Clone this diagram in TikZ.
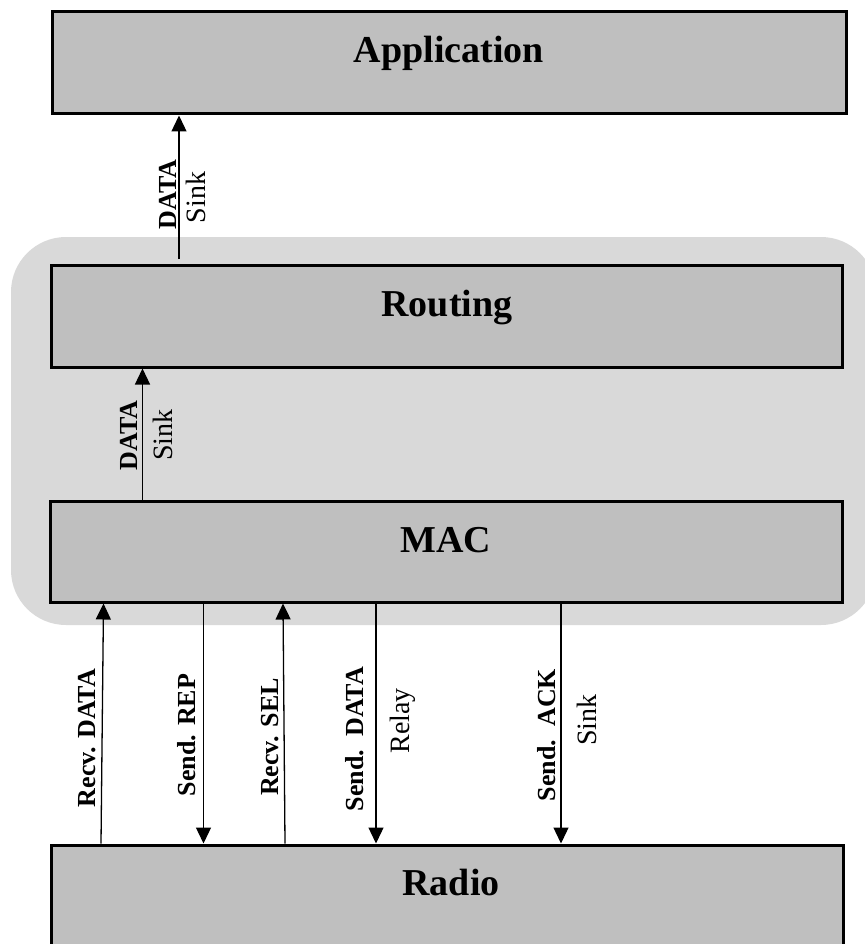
\documentclass[tikz,border=0pt]{standalone}
\usepackage{fontspec}
\setmainfont{Liberation Serif}
\usetikzlibrary{arrows.meta,fit,calc}
\definecolor{boxgray}{RGB}{191,191,191}
\definecolor{regiongray}{RGB}{217,217,217}
\begin{document}
\begin{tikzpicture}[x=1pt,y=-1pt,
  layerbox/.style={draw=black, line width=3pt, fill=boxgray, inner sep=0pt},
  titletext/.style={font=\bfseries\fontsize{38}{40}\selectfont, anchor=base, inner sep=0pt},
  sigbold/.style={font=\bfseries\fontsize{26}{28}\selectfont, rotate=90, inner sep=0pt},
  signorm/.style={font=\fontsize{28}{30}\selectfont, rotate=90, inner sep=0pt},
  sigarrow/.style={line width=1.3pt, -{Triangle[length=16pt,width=15pt]}}
]
\useasboundingbox (0,0) rectangle (864,944);
% grey stack region
\fill[regiongray, rounded corners=55pt] (11,237) rectangle (876,625);

% layers
\node[layerbox, fit={(52,12) (846,114)}] (app) {};
\node[layerbox, fit={(51.5,265.5) (842.5,367)}] (routing) {};
\node[layerbox, fit={(50.5,501) (842,602)}] (mac) {};
\node[layerbox, fit={(51.5,845) (843,948)}] (radio) {};

\node[titletext] (apptitle) at (449,63) {Application};
\node[titletext] (routingtitle) at (447,316) {Routing};
\node[titletext] (mactitle) at (446,552) {MAC};
\node[titletext] (radiotitle) at (451,895) {Radio};

% x positions of the connectors
\coordinate (s0) at (179,259);
\coordinate (x1) at (142.5,0);
\coordinate (x2b) at (101,0);
\coordinate (x2t) at (103.5,0);
\coordinate (x3) at (203.5,0);
\coordinate (x4b) at (285,0);
\coordinate (x4t) at (283,0);
\coordinate (x5) at (376,0);
\coordinate (x6) at (561,0);

% routing -> application
\draw[sigarrow] (s0) -- (app.south -| s0);
\node[sigbold] (l0a) at (167.5,194.5) {DATA};
\node[signorm] (l0b) at (196,197.5) {Sink};

% mac -> routing
\draw[sigarrow] (mac.north -| x1) -- (routing.south -| x1);
\node[sigbold] (l1a) at (129,435.5) {DATA};
\node[signorm] (l1b) at (162.5,435) {Sink};

% mac <-> radio
\draw[sigarrow] (radio.north -| x2b) -- (mac.south -| x2t);
\node[sigbold] (l2) at (87,738) {Recv. DATA};

\draw[sigarrow] (mac.south -| x3) -- (radio.north -| x3);
\node[sigbold] (l3) at (187,735) {Send. REP};

\draw[sigarrow] (radio.north -| x4b) -- (mac.south -| x4t);
\node[sigbold] (l4) at (270,737) {Recv. SEL};

\draw[sigarrow] (mac.south -| x5) -- (radio.north -| x5);
\node[sigbold] (l5) at (354.5,739) {Send.\ \ DATA};
\node[signorm] (l5b) at (402.5,721) {Relay};

\draw[sigarrow] (mac.south -| x6) -- (radio.north -| x6);
\node[sigbold] (l6) at (547,735) {Send.\ \ ACK};
\node[signorm] (l6b) at (586.5,720) {Sink};
\end{tikzpicture}
\end{document}
